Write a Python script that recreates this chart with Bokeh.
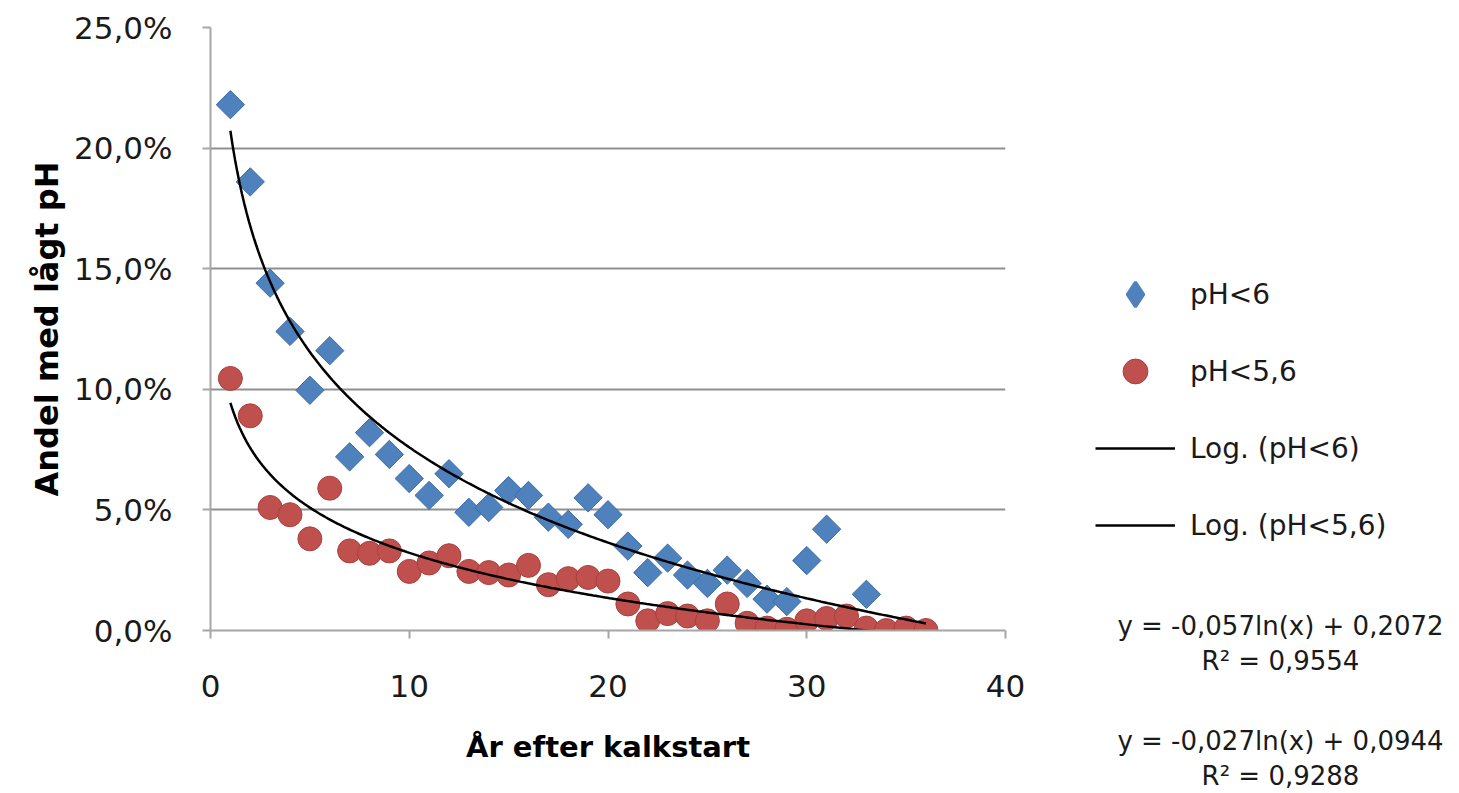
import math
import numpy as np
from bokeh.plotting import figure
from bokeh.layouts import row
from bokeh.models import Range1d, FixedTicker, Legend, LegendItem, Label
from bokeh.embed import file_html
from bokeh.resources import INLINE

# Years after liming started
years_ph6 = [1, 2, 3, 4, 5, 6, 7, 8, 9, 10, 11, 12, 13, 14, 15, 16, 17, 18,
             19, 20, 21, 22, 23, 24, 25, 26, 27, 28, 29, 30, 31, 33]
share_ph6 = [0.218, 0.186, 0.144, 0.124, 0.0996, 0.116, 0.072, 0.082, 0.073,
             0.063, 0.056, 0.065, 0.049, 0.051, 0.058, 0.056, 0.047, 0.044,
             0.055, 0.048, 0.035, 0.024, 0.030, 0.023, 0.0195, 0.025, 0.0195,
             0.013, 0.012, 0.029, 0.042, 0.015]

years_ph56 = list(range(1, 37))
share_ph56 = [0.1045, 0.089, 0.051, 0.048, 0.038, 0.059, 0.033, 0.032, 0.033,
              0.0245, 0.028, 0.031, 0.0245, 0.024, 0.023, 0.027, 0.019,
              0.0215, 0.022, 0.0205, 0.011, 0.004, 0.007, 0.006, 0.004,
              0.011, 0.003, 0.001, 0.0005, 0.004, 0.005, 0.006, 0.001,
              0.0, 0.001, 0.0]

# Logarithmic trend lines: y = a*ln(x) + b, with R²
trend_ph6 = (-0.057, 0.2072, 0.9554)
trend_ph56 = (-0.027, 0.0944, 0.9288)
trend_x_start, trend_x_end = 1, 36

y_ticks = [0.0, 0.05, 0.10, 0.15, 0.20, 0.25]
y_tick_labels = ["0,0%", "5,0%", "10,0%", "15,0%", "20,0%", "25,0%"]
x_ticks = [0, 10, 20, 30, 40]

series_labels = ["pH<6", "pH<5,6", "Log. (pH<6)", "Log. (pH<5,6)"]
x_title = "År efter kalkstart"
y_title = "Andel med lågt pH"

FONT = "DejaVu Sans"
TEXT = "#1a1a1a"
GRID = "#8f8f8f"
AXIS = "#a6a6a6"
BLUE = "#4F81BD"
BLUE_EDGE = "#3c6ca8"
RED = "#C0504D"
RED_EDGE = "#a8403d"

H = 793
MAIN_W = 1040
SIDE_W = 1459 - MAIN_W


def fmt_dec(v, n):
    return f"{v:.{n}f}".replace(".", ",")


def equation(a, b):
    return f"y = {fmt_dec(a, 3)}ln(x) + {fmt_dec(b, 4)}"


def draw_series(fig, legend_keys=False):
    if legend_keys:
        # legend keys are drawn unrotated, so use the diamond marker there
        blue = fig.scatter(years_ph6, share_ph6, marker="diamond",
                           fill_color=BLUE, line_color=BLUE, line_width=3)
    else:
        blue = fig.scatter(years_ph6, share_ph6, marker="square",
                           angle=math.pi / 4, size=20, fill_color=BLUE,
                           line_color=BLUE_EDGE, line_width=1)
    red = fig.scatter(years_ph56, share_ph56, marker="circle", size=24,
                      fill_color=RED, line_color=RED_EDGE, line_width=1)
    tx = np.linspace(trend_x_start, trend_x_end, 300)
    lines = [fig.line(tx, a * np.log(tx) + b, line_color="black",
                      line_width=2.5)
             for a, b, _ in (trend_ph6, trend_ph56)]
    return [blue, red] + lines


# ---- main chart -----------------------------------------------------------
p = figure(width=MAIN_W, height=H,
           x_range=Range1d(0, 40), y_range=Range1d(0, 0.25),
           output_backend="svg", toolbar_location=None,
           min_border_left=210, min_border_right=MAIN_W - 1005,
           min_border_top=27, min_border_bottom=H - 630)
p.outline_line_color = None

p.xgrid.visible = False
p.ygrid.ticker = FixedTicker(ticks=y_ticks)
p.ygrid.grid_line_color = GRID
p.ygrid.grid_line_width = 2

for ax in (p.xaxis[0], p.yaxis[0]):
    ax.axis_line_color = AXIS
    ax.axis_line_width = 2
    ax.major_tick_line_color = AXIS
    ax.major_tick_line_width = 2
    ax.major_tick_in = 0
    ax.major_tick_out = 8
    ax.minor_tick_line_color = None
    ax.major_label_text_font = FONT
    ax.major_label_text_font_size = "31px"
    ax.major_label_text_color = TEXT
    ax.axis_label_text_font = FONT
    ax.axis_label_text_font_style = "bold"
    ax.axis_label_text_color = "black"

p.yaxis.ticker = FixedTicker(ticks=y_ticks)
p.yaxis.major_label_overrides = dict(zip(y_ticks, y_tick_labels))
p.yaxis.major_label_standoff = 30
p.yaxis.axis_label = y_title
p.yaxis.axis_label_text_font_size = "32px"
p.yaxis.axis_label_standoff = 5

p.xaxis.ticker = FixedTicker(ticks=x_ticks)
p.xaxis.major_label_standoff = 36
p.xaxis.axis_label = x_title
p.xaxis.axis_label_text_font_size = "29px"
p.xaxis.axis_label_standoff = 30

draw_series(p)

# ---- legend and trend equations (separate panel on the right) -------------
# The series are drawn here only to feed the legend; the ranges keep them
# out of view.
side = figure(width=SIDE_W, height=H, x_range=Range1d(-2, -1),
              y_range=Range1d(-2, -1), output_backend="svg",
              toolbar_location=None, x_axis_type=None, y_axis_type=None,
              min_border=0)
side.frame_align = False
side.outline_line_color = None
side.xgrid.visible = False
side.ygrid.visible = False

keys = draw_series(side, legend_keys=True)

legend = Legend(items=[LegendItem(label=lbl, renderers=[r])
                       for lbl, r in zip(series_labels, keys)],
                location=(55, 237))
legend.label_text_font = FONT
legend.label_text_font_size = "28px"
legend.label_text_color = TEXT
legend.glyph_width = 80
legend.glyph_height = 62
legend.label_height = 50
legend.spacing = 15
legend.padding = 0
legend.margin = 0
legend.label_standoff = 15
legend.border_line_color = None
legend.background_fill_alpha = 0
side.add_layout(legend)

eq_lines = [
    (equation(trend_ph6[0], trend_ph6[1]), 168),
    (f"R² = {fmt_dec(trend_ph6[2], 4)}", 133),
    (equation(trend_ph56[0], trend_ph56[1]), 53),
    (f"R² = {fmt_dec(trend_ph56[2], 4)}", 18),
]
for txt, yy in eq_lines:
    side.add_layout(Label(x=240, y=yy, x_units="screen", y_units="screen",
                          text=txt, text_font=FONT, text_font_size="26px",
                          text_color=TEXT, text_align="center",
                          text_baseline="middle"))

layout = row(p, side)
open("out.html", "w").write(file_html(layout, INLINE))
